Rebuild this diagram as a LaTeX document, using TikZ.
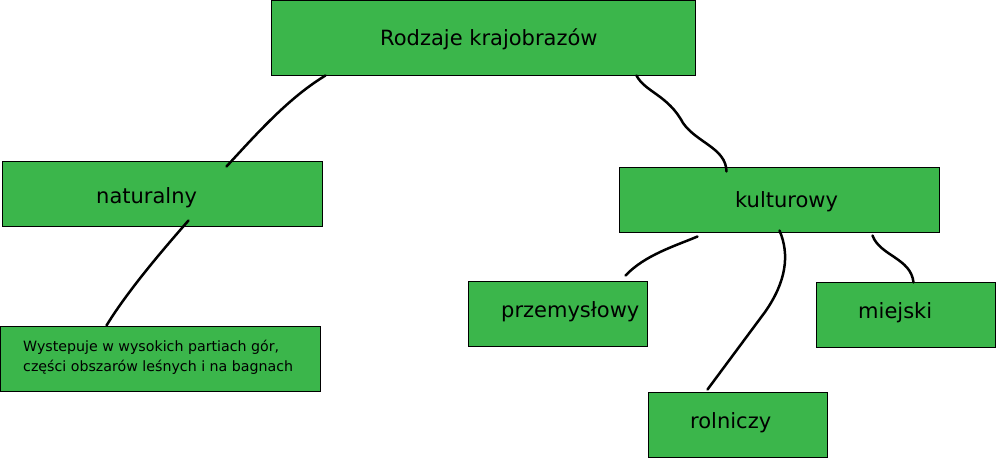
\documentclass[tikz,border=0pt]{standalone}
\usepackage{fontspec}
\setmainfont{DejaVu Sans}
\definecolor{boxgreen}{RGB}{59,182,75}
\begin{document}
\begin{tikzpicture}[x=1pt,y=-1pt,
  box/.style={draw=black,line width=1pt,fill=boxgreen,inner sep=0pt,minimum height=65pt},
  lbl/.style={anchor=base west,inner sep=0pt,font=\fontsize{21}{25}\selectfont},
  conn/.style={draw=black,line width=2.5pt,line cap=round}]
\useasboundingbox (0,0) rectangle (996,458);
% boxes
\node[box,minimum width=424pt,minimum height=75pt] (root) at (483,37.5) {};
\node[box,minimum width=320pt] (nat) at (162,193.5) {};
\node[box,minimum width=320pt] (kult) at (779,199.5) {};
\node[box,minimum width=179pt] (przem) at (557.5,313.5) {};
\node[box,minimum width=179pt] (miej) at (905.5,314.5) {};
\node[box,minimum width=179pt] (roln) at (737.5,424.5) {};
\node[box,minimum width=320pt] (desc) at (160,358.5) {};
% labels
\node[lbl] (troot) at (380,45) {Rodzaje krajobrazów};
\node[lbl] (tnat) at (96,203) {naturalny};
\node[lbl] (tkult) at (735,207) {kulturowy};
\node[lbl] (tprzem) at (501,317) {przemysłowy};
\node[lbl] (tmiej) at (858,318) {miejski};
\node[lbl] (troln) at (690,428) {rolniczy};
\node[anchor=north west,inner sep=0pt,align=left,font=\fontsize{14.2}{20}\selectfont] (tdesc) at (23,340) {Wystepuje w wysokich partiach gór,\\części obszarów leśnych i na bagnach};
% connectors
\draw[conn] ([xshift=55pt]root.south west) .. controls (290,97) and (260,130) .. ([xshift=225pt,yshift=-6pt]nat.north west);
\draw[conn] ([xshift=366pt]root.south west) .. controls (645,92) and (668,95) .. (683,123) .. controls (697,143) and (726,148) .. ([xshift=108pt,yshift=-5pt]kult.north west);
\draw[conn] ([xshift=187pt,yshift=6pt]nat.south west) .. controls (160,253) and (127,292) .. ([xshift=107pt]desc.north west);
\draw[conn] ([xshift=79pt,yshift=-4pt]kult.south west) .. controls (675,246) and (645,255) .. ([xshift=158pt,yshift=5pt]przem.north west);
\draw[conn] ([xshift=161pt,yshift=2pt]kult.south west) .. controls (790,255) and (786,282) .. (765,312) -- ([xshift=60pt,yshift=2pt]roln.north west);
\draw[conn] ([xshift=254pt,yshift=-3pt]kult.south west) .. controls (880,256) and (911,258) .. ([xshift=98pt,yshift=-1pt]miej.north west);
\end{tikzpicture}
\end{document}
